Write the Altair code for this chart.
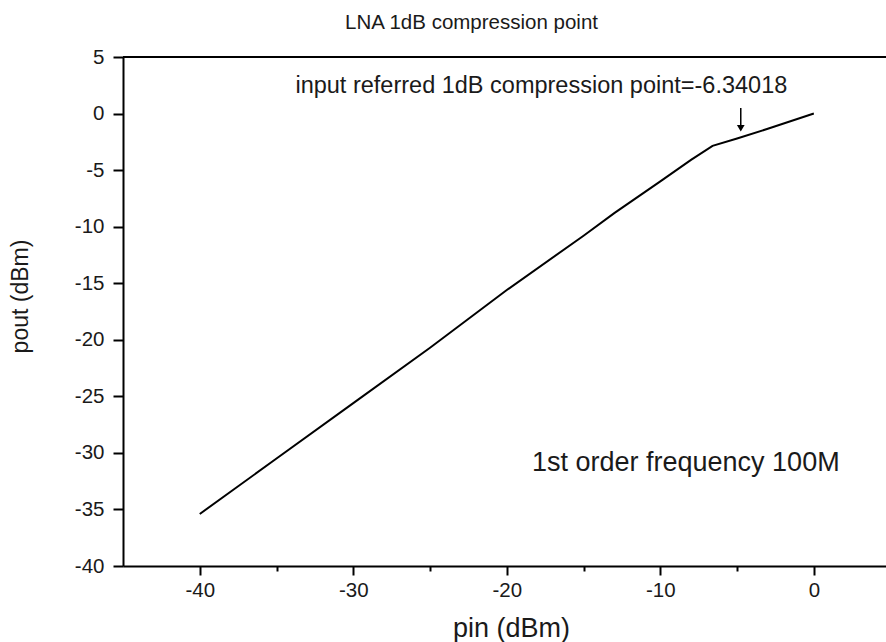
import altair as alt
import pandas as pd

# data
pin = [-40, -35, -30, -25, -20, -15, -13, -10, -8, -6.6, -5, -3, 0]
pout = [-35.4, -30.5, -25.6, -20.7, -15.6, -10.8, -8.8, -6.0, -4.1, -2.85, -2.2, -1.35, 0.0]

x_ticks = [-40, -35, -30, -25, -20, -15, -10, -5, 0]
y_ticks = [v / 2 for v in range(-80, 11, 5)]

ann_top = "input referred 1dB compression point=-6.34018"
ann_bottom = "1st order frequency 100M"
arrow_x = [-4.76]
arrow_y = [0.5]
arrow_y2 = [-1.3]

FONT = "Liberation Sans"
TXT = "#1a1a1a"

df = pd.DataFrame({"pin": pin, "pout": pout})

xscale = alt.Scale(domain=[-45, 4.7], nice=False, zero=False)
yscale = alt.Scale(domain=[-40, 5], nice=False, zero=False)

xaxis = alt.Axis(
    values=x_ticks,
    labelExpr="datum.value % 10 === 0 ? '' + datum.value : ''",
    tickSize={"expr": "datum.value % 10 === 0 ? 9 : 5"},
    tickWidth=2, tickColor="black", domainColor="black", domainWidth=2,
    labelFont=FONT, labelFontSize=20.5, labelColor=TXT, labelPadding=5,
    grid=False, title="pin (dBm)", titleFont=FONT, titleFontSize=27,
    titleFontWeight="normal", titleColor=TXT,
    titleX=388, titleY=62, titleBaseline="middle", titleAlign="center",
)
yaxis = alt.Axis(
    values=y_ticks,
    labelExpr="datum.value % 5 === 0 ? '' + datum.value : ''",
    tickSize={"expr": "datum.value % 5 === 0 ? 10 : 5"},
    tickWidth=2, tickColor="black", domainColor="black", domainWidth=2,
    labelFont=FONT, labelFontSize=20.5, labelColor=TXT, labelPadding=9,
    grid=False, title="pout (dBm)", titleFont=FONT, titleFontSize=23,
    titleFontWeight="normal", titleColor=TXT,
    titleX=-103, titleY=239, titleBaseline="middle", titleAlign="center", titleAngle=-90,
)

line = alt.Chart(df).mark_line(color="black", strokeWidth=2).encode(
    x=alt.X("pin:Q", scale=xscale, axis=xaxis),
    y=alt.Y("pout:Q", scale=yscale, axis=yaxis),
)

top_border = alt.Chart(pd.DataFrame({"v": [5]})).mark_rule(color="black", strokeWidth=2).encode(
    y=alt.Y("v:Q", scale=yscale)
)

arrow_df = pd.DataFrame({"x": arrow_x, "y": arrow_y, "y2": arrow_y2})
arrow_line = alt.Chart(arrow_df).mark_rule(color="black", strokeWidth=1.5).encode(
    x=alt.X("x:Q", scale=xscale), y=alt.Y("y:Q", scale=yscale), y2="y2:Q"
)
arrow_head = alt.Chart(arrow_df).mark_point(
    shape="triangle-down", filled=True, color="black", size=60, opacity=1
).encode(x=alt.X("x:Q", scale=xscale), y=alt.Y("y2:Q", scale=yscale))

texts = alt.Chart(pd.DataFrame({
    "x": [-17.75, -8.34], "y": [2.48, -30.86], "t": [ann_top, ann_bottom],
    "s": [23.5, 27]
})).mark_text(font=FONT, color=TXT, align="center", baseline="middle").encode(
    x=alt.X("x:Q", scale=xscale), y=alt.Y("y:Q", scale=yscale), text="t:N",
    size=alt.Size("s:Q", scale=None, legend=None)
)

chart = alt.layer(line, top_border, arrow_line, arrow_head, texts).properties(
    width=763, height=509,
    title=alt.TitleParams("LNA 1dB compression point", font=FONT, fontSize=20.5,
                          fontWeight="normal", color=TXT, anchor="middle", dx=-33, offset=14),
    autosize=alt.AutoSizeParams(type="none"),
    padding={"left": 123, "top": 57, "right": 0, "bottom": 76},
).configure_view(stroke=None).configure(background="white")

chart.save("out.html", embed_options={"renderer": "svg", "actions": False})
